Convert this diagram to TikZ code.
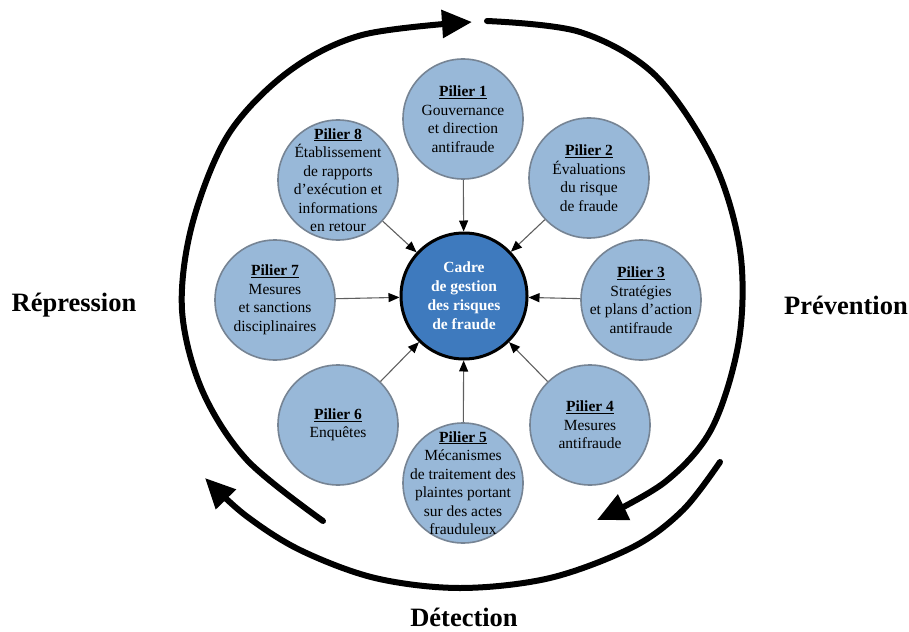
\documentclass[tikz,border=0pt]{standalone}
\usepackage{fontspec}
\setmainfont{Liberation Serif}
\usetikzlibrary{arrows.meta}
\definecolor{satfill}{RGB}{152,184,216}
\definecolor{satdraw}{RGB}{118,132,148}
\definecolor{cenfill}{RGB}{62,122,190}
\definecolor{connline}{RGB}{95,95,95}
\newcommand{\pil}[1]{\underline{\textbf{Pilier #1}}}
\begin{document}
\begin{tikzpicture}[x=1pt,y=-1pt,
  sat/.style={circle, draw=satdraw, line width=1.6pt, fill=satfill, minimum size=120pt, inner sep=0pt},
  sattext/.style={inner sep=0pt, align=center, font=\fontsize{15.5}{18.5}\selectfont},
  cen/.style={circle, draw=black, line width=3pt, fill=cenfill, minimum size=126pt, inner sep=0pt, align=center, text=white, font=\fontsize{15.5}{19}\selectfont\bfseries},
  conn/.style={draw=connline, line width=1.1pt, -{Triangle[length=11pt,width=9pt,color=black]}},
  cyc/.style={line width=6pt, line cap=round},
  cyctip/.style={-{Triangle[length=30pt,width=27pt]}},
  big/.style={inner sep=0pt, font=\fontsize{26.5}{30}\selectfont\bfseries}]
\useasboundingbox (0,0) rectangle (909,631);

% cycle arrows
\draw[cyc, cyctip] plot[smooth, tension=0.55] coordinates {(323,521) (247,460) (202,390) (182,310) (192,225) (228,135) (288,72) (362,35) (472,22)};
\draw[cyc, cyctip] plot[smooth, tension=0.55] coordinates {(487,21) (580,32) (655,75) (713,160) (740,250) (739,340) (712,428) (665,482) (597,520)};
\draw[cyc, cyctip] plot[smooth, tension=0.55] coordinates {(720,462) (683,510) (633,547) (550,578) (460,588) (375,578) (300,550) (245,515) (205,478)};

% nodes
\node[cen] (c) at (464,296) {Cadre\\de gestion\\des risques\\de fraude};
\node[sat] (p1) at (463,119) {};
\node[sat] (p2) at (589,178) {};
\node[sat] (p3) at (641,300) {};
\node[sat] (p4) at (590,425) {};
\node[sat] (p5) at (463,483) {};
\node[sat] (p6) at (338,425) {};
\node[sat] (p7) at (275,300) {};
\node[sat] (p8) at (338,180) {};

\node[sattext] (t1) at (p1) {\pil{1}\\Gouvernance\\et direction\\antifraude};
\node[sattext] (t2) at (p2) {\pil{2}\\Évaluations\\du risque\\de fraude};
\node[sattext] (t3) at (p3) {\pil{3}\\Stratégies\\et plans d’action\\antifraude};
\node[sattext] (t4) at (p4) {\pil{4}\\Mesures\\antifraude};
\node[sattext] (t5) at (p5) {\pil{5}\\Mécanismes\\de traitement des\\plaintes portant\\sur des actes\\frauduleux};
\node[sattext] (t6) at (p6) {\pil{6}\\Enquêtes};
\node[sattext] (t7) at (p7) {\pil{7}\\Mesures\\et sanctions\\disciplinaires};
\node[sattext] (t8) at (p8) {\pil{8}\\Établissement\\de rapports\\d’exécution et\\informations\\en retour};

\foreach \p in {p1,p2,p3,p4,p5,p6,p7,p8} \draw[conn] (\p) -- (c);

% labels
\node[big] (rep) at (74,305) {Répression};
\node[big] (prev) at (846,305) {Prévention};
\node[big] (det) at (464,617) {Détection};
\end{tikzpicture}
\end{document}
